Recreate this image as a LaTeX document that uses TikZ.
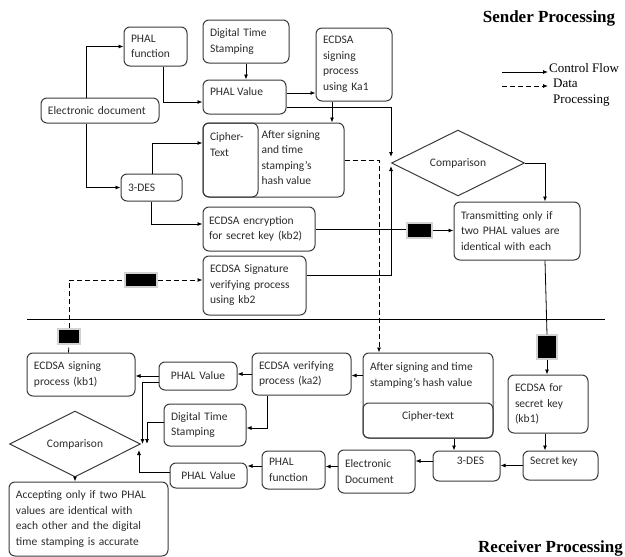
\documentclass[tikz,border=0pt]{standalone}
\usepackage{fontspec}
\setmainfont{Carlito}
\newfontfamily\headfont{Liberation Serif}
\usetikzlibrary{arrows.meta,shapes.geometric}
\definecolor{edge}{HTML}{3A3A3A}
\definecolor{ink}{HTML}{2B2B2B}
\newcommand{\topbox}[3]{\parbox[c][#2][t]{#1}{#3}}
\tikzset{
  box/.style={draw=edge, line width=1pt, rounded corners=6pt, align=left,
    inner xsep=7pt, inner ysep=3pt, text=ink, font=\fontsize{11.5}{15.5}\selectfont},
  diam/.style={draw=edge, line width=1pt, diamond, inner sep=0pt, text=ink,
    font=\fontsize{11.5}{15.5}\selectfont},
  blk/.style={fill=black, draw=gray!35, line width=1.5pt, inner sep=0pt},
  line/.style={line width=0.8pt, draw=black},
  flow/.style={line, ->},
  dline/.style={line, dash pattern=on 5pt off 3pt},
  dflow/.style={dline, ->},
  head/.style={font=\headfont\bfseries\fontsize{17}{20}\selectfont},
  legend/.style={font=\headfont\fontsize{13}{16}\selectfont, inner sep=0pt, align=left},
}

\begin{document}
\begin{tikzpicture}[x=1pt,y=-1pt,>={Latex[length=5pt,width=4pt]}]
\useasboundingbox (0,0) rectangle (625,557);

% sender side
\node[head] (sendhd) at (549,18) {Sender Processing};
\node[box,text width=49pt,minimum height=39pt] (phalfn) at (155.5,46.5) {PHAL\\function};
\node[box,text width=72pt,minimum height=43pt] (dts) at (246,41.5) {Digital Time\\Stamping};
\node[box,inner ysep=8pt] (phalval) at (244.5,97) {\topbox{69pt}{18pt}{PHAL Value}};
\node[box,text width=104pt,minimum height=25pt] (edoc) at (100,110.5) {Electronic document};
\node[box,text width=47pt,minimum height=27pt] (des) at (151.5,187.5) {3-DES};
\node[box,minimum width=141pt,minimum height=74pt] (hash) at (273.5,160) {};
\node[box,inner ysep=10pt] (cipher) at (230.5,160) {\topbox{41pt}{54pt}{Cipher-\\Text}};
\node[box,draw=none,anchor=north west,inner xsep=2pt,inner ysep=0pt] (hashtxt) at (259,130)
  {After signing\\and time\\stamping's\\hash value};
\node[box,text width=62pt,minimum height=73pt] (ecsign) at (354,64.5) {ECDSA\\signing\\process\\using Ka1};
\node[diam,minimum width=133pt,minimum height=60pt] (comp) at (458,163) {Comparison};
\node[box,text width=112pt,minimum height=58pt] (trans) at (517,231)
  {Transmitting only if\\two PHAL values are\\identical with each};
\node[box,inner xsep=6pt,text width=100pt,minimum height=44pt] (ecenc) at (259,229)
  {ECDSA encryption\\for secret key (kb2)};
\node[box,text width=89pt,minimum height=59pt] (ecver) at (254.5,285.5)
  {ECDSA Signature\\verifying process\\using kb2};
\node[blk,minimum width=25pt,minimum height=15pt] (blk1) at (419.5,230.5) {};
\node[blk,minimum width=32pt,minimum height=14pt] (blk2) at (141,280) {};
\node[blk,minimum width=22pt,minimum height=15pt] (blk3) at (69,336.5) {};
\node[blk,minimum width=20pt,minimum height=24pt] (blk4) at (547,347) {};

% legend
\coordinate (cf1) at (502,72);
\coordinate (cf2) at (548,72);
\coordinate (df1) at (502,86);
\coordinate (df2) at (548,86);
\draw[flow] (cf1) -- (cf2);
\draw[dflow] (df1) -- (df2);
\node[legend,anchor=west] (cflab) at (549,68) {Control Flow};
\node[legend,anchor=north west] (dflab) at (553,79) {Data\\Processing};

% dividing line
\coordinate (sepL) at (27,319);
\coordinate (sepR) at (605,319);
\draw[line] (sepL) -- (sepR);

% receiver side
\node[box,text width=94pt,minimum height=43pt] (rsign) at (81,374.5) {ECDSA signing\\process (kb1)};
\node[box,align=center,text width=64pt,minimum height=28pt] (rphalv1) at (198,376) {PHAL Value};
\node[box,text width=85pt,minimum height=42pt] (rver) at (301.5,374) {ECDSA verifying\\process (ka2)};
\node[box,inner ysep=10pt] (rhash) at (428,395.5)
  {\topbox{116pt}{65pt}{After signing and time\\stamping's hash value}};
\node[box,align=center,text width=116pt,minimum height=35pt,text depth=9pt] (rcipher) at (428,420.5) {Cipher-text};
\node[box,text width=66pt,minimum height=58pt] (rkey1) at (548,404) {ECDSA for\\secret key\\(kb1)};
\node[box,inner ysep=6pt] (rseckey) at (560.5,465.5) {\topbox{61pt}{17pt}{Secret key}};
\node[box,inner ysep=6pt] (rdes) at (466.5,466) {\topbox{53pt}{18pt}{\centering\hspace*{8pt}3-DES}};
\node[box,text width=63pt,minimum height=43pt] (redoc) at (376.5,471.5) {Electronic\\Document};
\node[box,text width=49pt,minimum height=38pt] (rphalfn) at (293.5,470) {PHAL\\function};
\node[box,align=center,text width=63pt,minimum height=25pt] (rphalv2) at (208.5,475.5) {PHAL Value};
\node[box,text width=68pt,minimum height=42pt] (rdts) at (205,425) {Digital Time\\Stamping};
\node[diam,minimum width=131pt,minimum height=43pt] (rcomp) at (75,444) {Comparison};
\node[box,text width=145pt,minimum height=74pt] (accept) at (88.5,519)
  {Accepting only if two PHAL\\values are identical with\\each other and the digital\\time stamping is accurate};
\node[head] (recvhd) at (550.5,548) {Receiver Processing};

% sender connectors
\draw[flow] ([xshift=46pt]edoc.north west) |- (phalfn.west);
\draw[flow] ([xshift=46pt]edoc.south west) |- (des.west);
\draw[flow] ([xshift=40pt]phalfn.south west) |- ([yshift=-5pt]phalval.west);
\draw[flow] (dts.south) -- (dts.south |- phalval.north);
\coordinate (pv1) at ([yshift=4pt]phalval.east);
\draw[flow] (pv1) -- (pv1 -| ecsign.west);
\coordinate (pv2) at ([yshift=-10pt]phalval.east);
\draw[flow] (pv2) -| ([yshift=6pt]comp.west);
\coordinate (es1) at ([xshift=-22pt]ecsign.south);
\draw[flow] (es1) -- (es1 |- hash.north);
\draw[flow] ([xshift=32pt]des.north west) |- ([yshift=17pt]cipher.west);
\draw[flow] ([xshift=31pt]des.south west) |- ([yshift=5pt]ecenc.west);
\draw[line] (ecenc.east) -- (ecenc.east -| blk1.west);
\draw[flow] (blk1.east) -- (blk1.east -| trans.west);
\draw[flow] ([yshift=10pt]ecver.east) -| ([yshift=-3pt]comp.west);
\draw[flow] (comp.east) -| ([xshift=28pt]trans.north);
\draw[line] ([xshift=28pt]trans.south) -- (blk4.north);
\draw[flow] (blk4.south) -- (blk4.south |- rkey1.north);

% data flow
\draw[dflow] (hash.east) -| ([xshift=-49pt]rhash.north);
\coordinate (rs1) at ([xshift=42pt]rsign.north west);
\draw[dline] (rs1) -- (blk3.south);
\draw[dline] (blk3.north) |- (blk2.west);
\draw[dflow] (blk2.east) -- (blk2.east -| ecver.west);

% receiver connectors
\coordinate (k1) at ([xshift=-3pt]rkey1.south);
\draw[flow] (k1) -- (k1 |- rseckey.north);
\draw[flow] (rseckey.west) -- (rseckey.west -| rdes.east);
\coordinate (rh1) at ([xshift=26pt]rcipher.south);
\draw[flow] (rh1) -- (rh1 |- rdes.north);
\coordinate (rd1) at ([yshift=5pt]rdes.west);
\draw[flow] (rd1) -- (rd1 -| redoc.east);
\coordinate (re1) at ([yshift=5pt]redoc.west);
\draw[flow] (re1) -- (re1 -| rphalfn.east);
\coordinate (rf1) at ([yshift=4pt]rphalfn.west);
\draw[flow] (rf1) -- (rf1 -| rphalv2.east);
\draw[flow] ([yshift=3pt]rphalv2.west) -| ([shift={(-2pt,-6pt)}]rcomp.east);
\coordinate (rh2) at ([yshift=20pt]rhash.west);
\draw[flow] (rh2) -- (rh2 -| rver.east);
\draw[flow] (rver.west) -- (rver.west -| rphalv1.east);
\draw[flow] (rphalv1.west) -- (rphalv1.west -| rsign.east);
\draw[flow] ([yshift=-6pt]rphalv1.west) -| ([xshift=1.5pt]rcomp.east);
\draw[flow] ([xshift=-34pt]rver.south) |- ([yshift=-3pt]rdts.east);
\draw[flow] ([yshift=3pt]rdts.west) -| ([xshift=6pt]rcomp.east);
\draw[flow] (rcomp.south) -- (rcomp.south |- accept.north);
\end{tikzpicture}
\end{document}
